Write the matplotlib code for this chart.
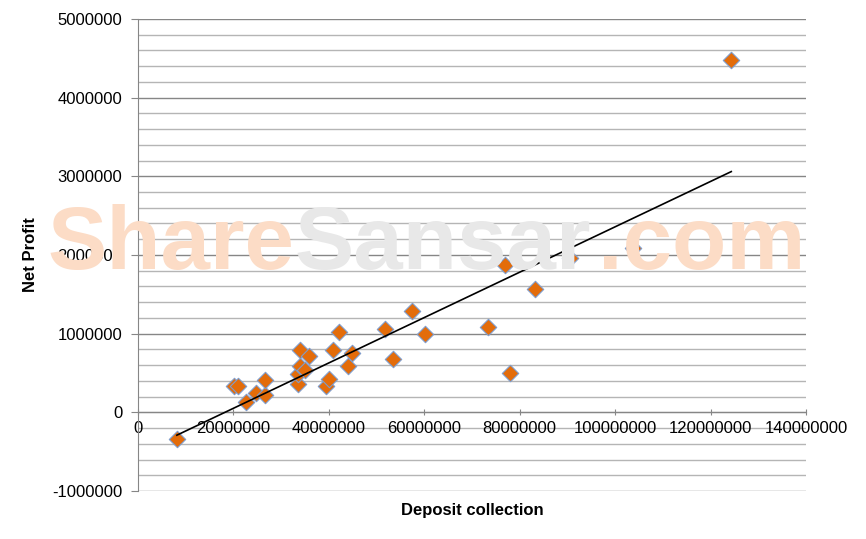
import numpy as np
import matplotlib
matplotlib.use("Agg")
import matplotlib.pyplot as plt

deposit = [8.2e6, 20.2e6, 21.0e6, 22.6e6, 24.7e6, 26.6e6, 26.6e6, 33.5e6, 33.5e6, 34.0e6, 34.0e6,
           35.1e6, 35.8e6, 39.5e6, 40.1e6, 40.9e6, 42.1e6, 44.1e6, 44.8e6, 51.8e6, 53.5e6,
           57.4e6, 60.2e6, 73.3e6, 78.0e6, 83.1e6, 77.0e6, 90.5e6, 103.8e6, 124.3e6]
profit = [-342e3, 330e3, 330e3, 130e3, 245e3, 215e3, 405e3, 355e3, 490e3, 595e3, 797e3,
          540e3, 722e3, 330e3, 426e3, 797e3, 1016e3, 595e3, 755e3, 1059e3, 680e3,
          1291e3, 996e3, 1089e3, 502e3, 1566e3, 1873e3, 1962e3, 2089e3, 4481e3]
xticks = list(range(0, 140000001, 20000000))
yticks = list(range(-1000000, 5000001, 1000000))

plt.rcParams["font.family"] = "Liberation Sans"
fig = plt.figure(figsize=(8.66, 5.39), dpi=100)
ax = fig.add_axes([0.159, 0.089, 0.772, 0.876])
ax.patch.set_alpha(0)
ax.set_xlim(0, 140000000)
ax.set_ylim(-1000000, 5000000)

for v in range(-1000000, 5000001, 200000):
    major = v % 1000000 == 0
    ax.axhline(v, color="#868686" if major else "#b5b5b5", lw=1.0, zorder=1)

fig.text(0.055, 0.5, "Share", color="#fcdcc6", fontsize=64, fontweight="bold", zorder=0)
fig.text(0.34, 0.5, "Sansar", color="#e8e8e8", fontsize=64, fontweight="bold", zorder=0)
fig.text(0.69, 0.5, ".com", color="#fcdcc6", fontsize=64, fontweight="bold", zorder=0)

ax.scatter(deposit, profit, marker="D", s=70, c="#e36c0a", edgecolors="#7f9ccb", linewidths=0.8, zorder=3)
m, b = np.polyfit(deposit, profit, 1)
xs = np.array([min(deposit), max(deposit)])
ax.plot(xs, m * xs + b, color="black", lw=1.2, zorder=4)

for s in ["top", "right"]:
    ax.spines[s].set_visible(False)
ax.spines["left"].set_color("#868686")
ax.spines["bottom"].set_color("#868686")
ax.spines["bottom"].set_position(("data", 0))
ax.set_xticks(xticks)
ax.set_xticklabels([str(v) for v in xticks])
ax.set_yticks(yticks)
ax.set_yticklabels([str(v) for v in yticks])
ax.tick_params(axis="both", labelsize=12, colors="#868686", labelcolor="black", length=5)
ax.tick_params(axis="x", direction="inout", pad=4)
ax.tick_params(axis="y", direction="out", pad=6)
ax.set_xlabel("Deposit collection", fontsize=12, fontweight="bold")
ax.xaxis.set_label_coords(0.5, -0.025)
ax.set_ylabel("Net Profit", fontsize=12, fontweight="bold", labelpad=10)
fig.savefig("out.png", dpi=100)
